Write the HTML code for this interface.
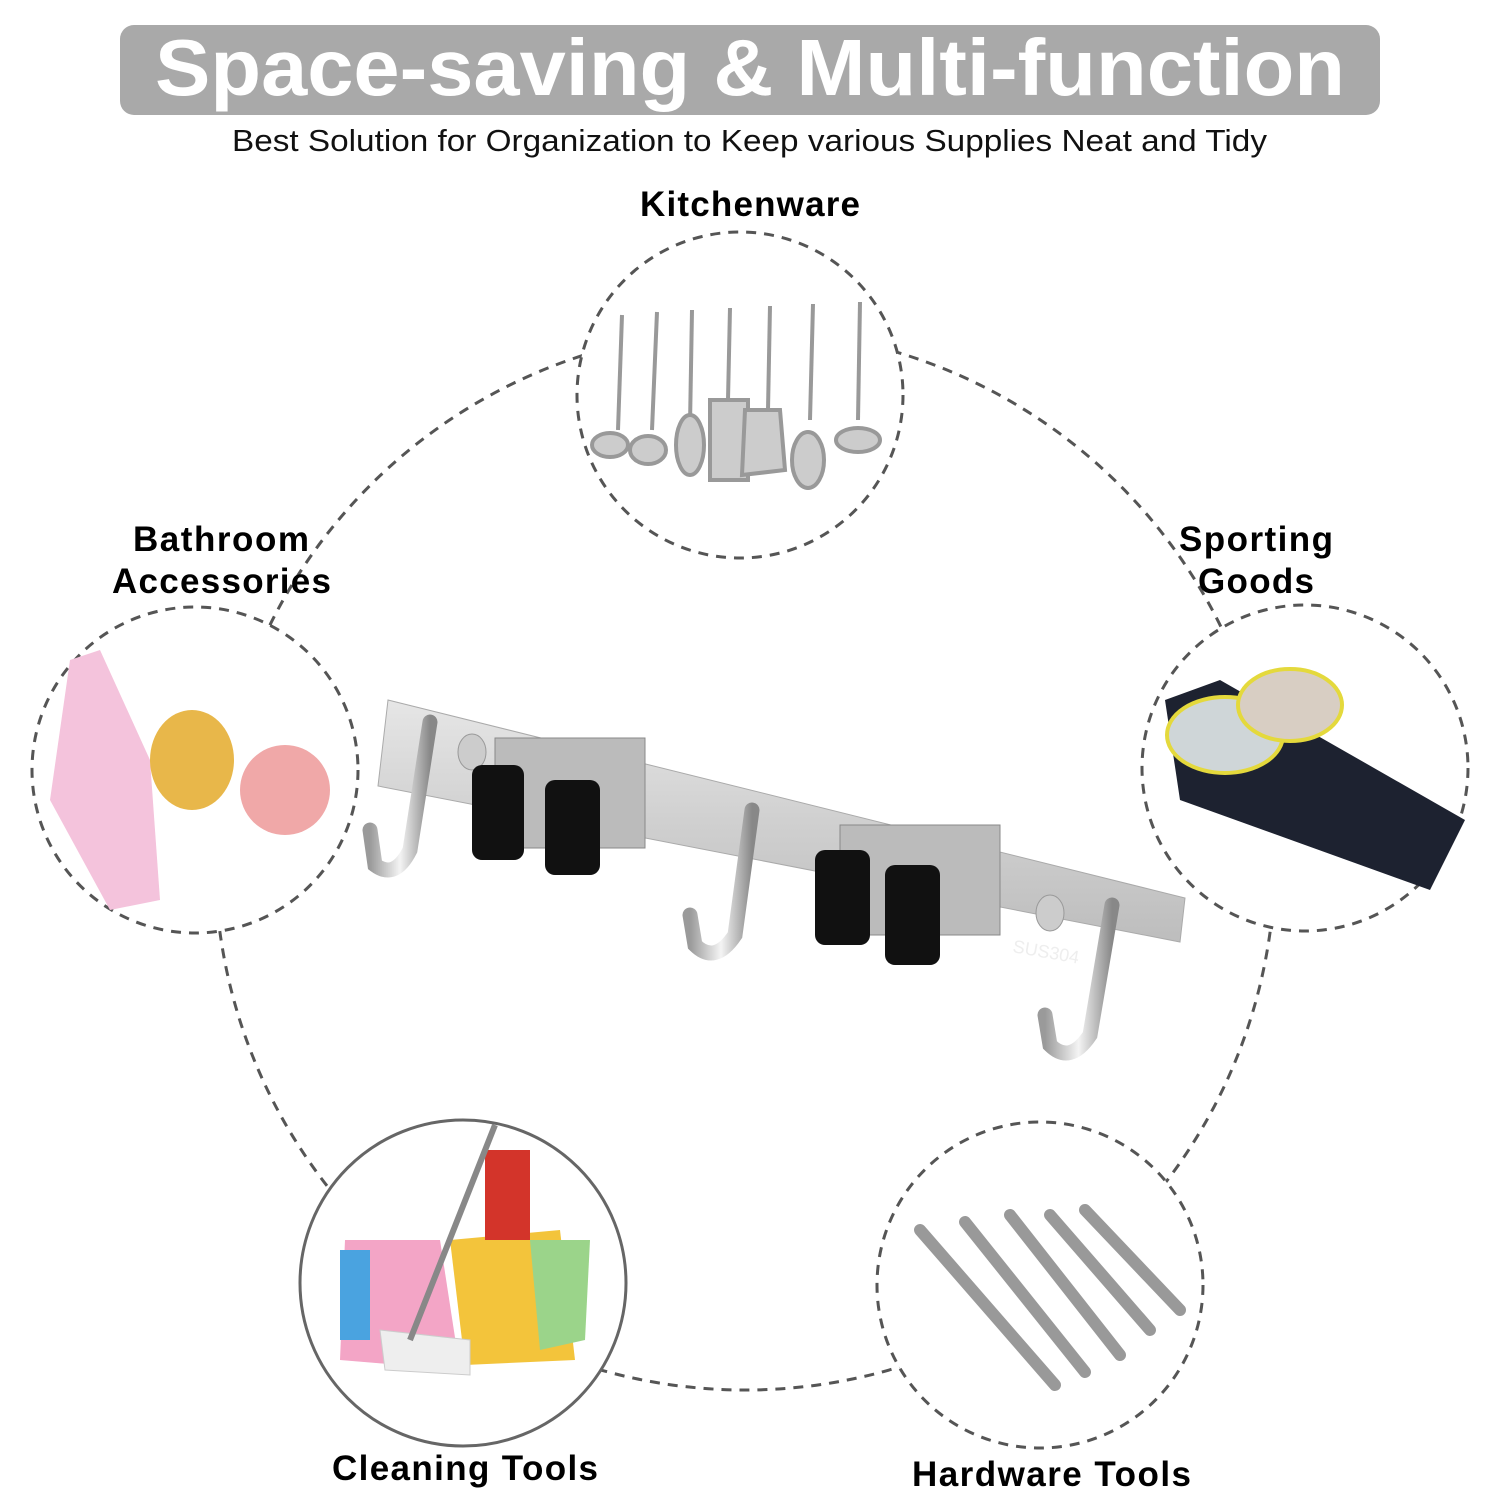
<!DOCTYPE html>
<html><head><meta charset="utf-8"><style>
body{margin:0;background:#fff;width:1500px;height:1500px;overflow:hidden;font-family:"Liberation Sans",sans-serif}
</style></head><body>
<svg width="1500" height="1500" xmlns="http://www.w3.org/2000/svg" font-family="Liberation Sans, sans-serif">
<defs>
<linearGradient id="bar" x1="0" y1="0" x2="0" y2="1"><stop offset="0" stop-color="#e6e6e6"/><stop offset="0.5" stop-color="#d0d0d0"/><stop offset="1" stop-color="#bdbdbd"/></linearGradient>
<linearGradient id="hk" x1="0" y1="0" x2="1" y2="0"><stop offset="0" stop-color="#9a9a9a"/><stop offset="0.5" stop-color="#f4f4f4"/><stop offset="1" stop-color="#888"/></linearGradient>
</defs>
<rect x="120" y="25" width="1260" height="90" rx="14" fill="#a9a9a9"/>
<text x="155" y="95" font-size="80" font-weight="bold" fill="#fff" textLength="1190" lengthAdjust="spacingAndGlyphs">Space-saving &amp; Multi-function</text>
<text x="232" y="151" font-size="31" fill="#111" textLength="1035" lengthAdjust="spacingAndGlyphs">Best Solution for Organization to Keep various Supplies Neat and Tidy</text>
<circle cx="745" cy="860" r="530" fill="none" stroke="#555" stroke-width="3" stroke-dasharray="10 8"/>
<g fill="#fff" stroke="#555" stroke-width="3" stroke-dasharray="10 8">
<circle cx="740" cy="395" r="163"/>
<circle cx="195" cy="770" r="163"/>
<circle cx="1305" cy="768" r="163"/>
<circle cx="1040" cy="1285" r="163"/>
</g>
<circle cx="463" cy="1283" r="163" fill="#fff" stroke="#666" stroke-width="3"/>
<g font-size="35" font-weight="bold" lengthAdjust="spacingAndGlyphs">
<text x="640" y="216" textLength="220">Kitchenware</text>
<text x="133" y="551" textLength="176">Bathroom</text>
<text x="112" y="593" textLength="219">Accessories</text>
<text x="1179" y="551" textLength="154">Sporting</text>
<text x="1198" y="593" textLength="116">Goods</text>
<text x="332" y="1480" textLength="266">Cleaning Tools</text>
<text x="912" y="1486" textLength="279">Hardware Tools</text>
</g>
<!-- kitchen utensils -->
<g stroke="#999" stroke-width="4" fill="#ccc">
<line x1="622" y1="315" x2="618" y2="430"/><line x1="657" y1="312" x2="652" y2="430"/><line x1="692" y1="310" x2="690" y2="425"/><line x1="730" y1="308" x2="728" y2="400"/><line x1="770" y1="306" x2="768" y2="410"/><line x1="813" y1="304" x2="810" y2="420"/><line x1="860" y1="302" x2="858" y2="420"/>
<ellipse cx="610" cy="445" rx="18" ry="12"/><ellipse cx="648" cy="450" rx="18" ry="14"/><ellipse cx="690" cy="445" rx="14" ry="30"/><rect x="710" y="400" width="38" height="80"/><path d="M745 410 L780 410 L785 470 L742 475Z"/><ellipse cx="808" cy="460" rx="16" ry="28"/><ellipse cx="858" cy="440" rx="22" ry="12"/>
</g>
<!-- bathroom -->
<path d="M70 660 L100 650 L150 760 L160 900 L110 910 L50 800Z" fill="#f4c3dc"/>
<ellipse cx="192" cy="760" rx="42" ry="50" fill="#e8b74a"/>
<circle cx="285" cy="790" r="45" fill="#f0a8a8"/>
<!-- sporting -->
<path d="M1165 700 L1220 680 L1465 820 L1430 890 L1180 800Z" fill="#1d2230"/>
<ellipse cx="1225" cy="735" rx="58" ry="38" fill="#cfd6d8" stroke="#e4d93c" stroke-width="4"/>
<ellipse cx="1290" cy="705" rx="52" ry="36" fill="#d8cec3" stroke="#e4d93c" stroke-width="4"/>
<!-- cleaning -->
<path d="M345 1240 L440 1240 L460 1370 L340 1360Z" fill="#f3a5c6"/>
<path d="M450 1240 L560 1230 L575 1360 L465 1365Z" fill="#f3c43b"/>
<rect x="485" y="1150" width="45" height="90" fill="#d3342a"/>
<path d="M530 1240 L590 1240 L585 1340 L540 1350Z" fill="#9bd48a"/>
<path d="M380 1330 L470 1340 L470 1375 L385 1370Z" fill="#eee" stroke="#ccc"/>
<rect x="340" y="1250" width="30" height="90" fill="#4aa3e0"/>
<line x1="495" y1="1125" x2="410" y2="1340" stroke="#888" stroke-width="6"/>
<!-- wrenches -->
<g stroke="#999" stroke-width="12" stroke-linecap="round">
<line x1="920" y1="1230" x2="1055" y2="1385"/><line x1="965" y1="1222" x2="1085" y2="1372"/><line x1="1010" y1="1215" x2="1120" y2="1355"/><line x1="1050" y1="1215" x2="1150" y2="1330"/><line x1="1085" y1="1210" x2="1180" y2="1310"/>
</g>
<!-- rack bar -->
<path d="M388 700 L1185 898 L1180 942 L378 786Z" fill="url(#bar)" stroke="#aaa"/>
<ellipse cx="472" cy="752" rx="14" ry="18" fill="#ccc" stroke="#999"/>
<ellipse cx="1050" cy="913" rx="14" ry="18" fill="#ccc" stroke="#999"/>
<text x="1012" y="952" font-size="18" fill="#eee" transform="rotate(10 1012 952)">SUS304</text>
<!-- clips -->
<g>
<rect x="495" y="738" width="150" height="110" fill="#bbb" stroke="#888"/>
<rect x="472" y="765" width="52" height="95" rx="10" fill="#111"/>
<rect x="545" y="780" width="55" height="95" rx="10" fill="#111"/>
<rect x="840" y="825" width="160" height="110" fill="#bbb" stroke="#888"/>
<rect x="815" y="850" width="55" height="95" rx="10" fill="#111"/>
<rect x="885" y="865" width="55" height="100" rx="10" fill="#111"/>
</g>
<!-- hooks -->
<g fill="none" stroke="url(#hk)" stroke-width="15" stroke-linecap="round">
<path d="M430 722 L410 850 Q395 880 375 865 L370 830"/>
<path d="M752 810 L735 935 Q715 965 695 945 L690 915"/>
<path d="M1112 905 L1090 1035 Q1070 1065 1050 1045 L1045 1015"/>
</g>
</svg>
</body></html>
